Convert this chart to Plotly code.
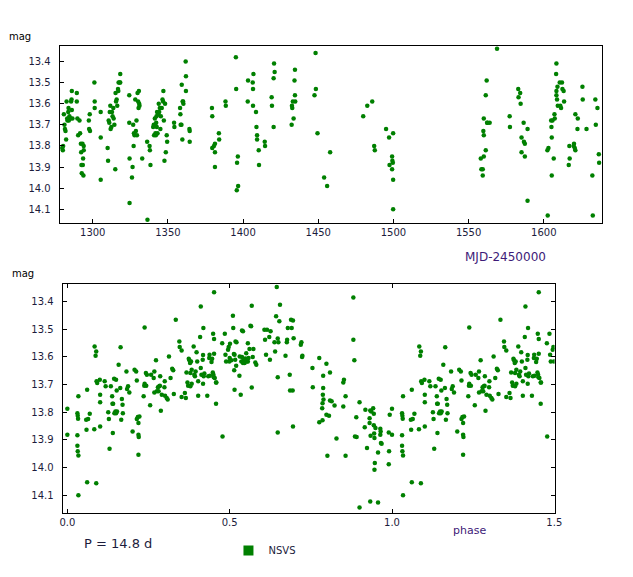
import plotly.graph_objects as go

# light curve, MJD-2450000 vs magnitude
days = [
    1279.7, 1280.1, 1280.3, 1280.8, 1281.2, 1281.5, 1281.9, 1282.3, 1282.6, 1283.0,
    1283.2, 1283.7, 1283.9, 1284.1, 1284.5, 1285.2, 1285.6, 1286.1, 1286.1, 1286.5,
    1285.9, 1289.4, 1289.4, 1289.8, 1290.3, 1291.2, 1291.6, 1292.1, 1292.3, 1292.5,
    1292.7, 1293.2, 1293.4, 1293.6, 1293.8, 1294.0, 1294.0, 1297.4, 1297.6, 1298.0,
    1298.2, 1301.1, 1301.3, 1301.3, 1305.3, 1305.3, 1305.3, 1309.9, 1310.2, 1310.6,
    1311.0, 1311.3, 1311.7, 1311.9, 1312.4, 1312.8, 1313.2, 1313.7, 1313.9, 1314.4,
    1315.0, 1315.2, 1315.5, 1315.9, 1316.3, 1316.8, 1317.0, 1317.2, 1317.9, 1318.3,
    1318.3, 1324.3, 1324.3, 1324.5, 1324.5, 1326.1, 1326.5, 1326.9, 1327.2, 1327.4,
    1327.8, 1328.3, 1328.7, 1329.1, 1329.4, 1329.8, 1330.2, 1330.5, 1330.7, 1330.9,
    1331.1, 1332.9, 1336.2, 1336.4, 1337.8, 1338.0, 1338.4, 1340.2, 1340.6, 1340.8,
    1341.3, 1341.5, 1341.7, 1342.0, 1342.2, 1342.4, 1342.6, 1342.8, 1343.1, 1343.5,
    1343.9, 1344.2, 1344.6, 1345.0, 1345.3, 1345.9, 1346.4, 1346.8, 1347.0, 1347.3,
    1347.7, 1348.1, 1348.6, 1349.2, 1349.5, 1354.1, 1354.3, 1358.1, 1358.3, 1358.5,
    1359.0, 1359.2, 1359.6, 1359.8, 1360.1, 1360.3, 1361.8, 1362.0, 1362.0, 1364.3,
    1364.5, 1364.5, 1379.3, 1379.5, 1379.5, 1380.6, 1381.3, 1381.3, 1381.3, 1383.9,
    1384.1, 1388.3, 1388.5, 1395.2, 1395.4, 1396.0, 1396.5, 1396.7, 1395.8, 1403.1,
    1403.3, 1406.4, 1406.6, 1406.9, 1406.6, 1408.6, 1408.9, 1409.3, 1409.3, 1410.4,
    1410.6, 1414.4, 1414.6, 1419.0, 1419.2, 1420.3, 1420.3, 1420.6, 1421.0, 1432.3,
    1432.5, 1432.7, 1433.1, 1433.6, 1434.2, 1434.5, 1434.5, 1434.7, 1447.5, 1448.2,
    1448.4, 1449.5, 1453.9, 1455.9, 1457.9, 1479.9, 1482.6, 1485.9, 1487.2, 1487.6,
    1495.1, 1497.1, 1497.4, 1499.1, 1499.1, 1499.3, 1499.6, 1499.8, 1499.8, 1499.8,
    1558.1, 1558.5, 1559.4, 1559.4, 1559.8, 1560.1, 1560.1, 1560.1, 1561.4, 1561.4,
    1562.0, 1562.3, 1562.5, 1564.0, 1568.9, 1577.3, 1577.5, 1583.0, 1583.2, 1584.3,
    1584.6, 1585.2, 1585.2, 1586.6, 1586.8, 1587.4, 1587.4, 1589.2, 1589.2, 1602.4,
    1602.6, 1603.1, 1604.9, 1605.1, 1605.3, 1605.3, 1605.8, 1606.6, 1607.1, 1607.3,
    1608.2, 1608.4, 1608.4, 1608.4, 1608.8, 1609.1, 1609.3, 1610.6, 1611.0, 1611.5,
    1612.1, 1612.4, 1613.2, 1613.5, 1616.6, 1617.0, 1617.2, 1619.9, 1620.1, 1620.6,
    1621.0, 1621.0, 1622.4, 1622.6, 1625.7, 1625.9, 1628.4, 1632.3, 1632.6, 1634.3,
    1634.6, 1635.7, 1636.6, 1636.8,
]
mags = [
    13.81, 13.82, 13.80, 13.65, 13.70, 13.72, 13.73, 13.77, 13.59, 13.67,
    13.68, 13.64, 13.62, 13.68, 13.66, 13.67, 13.59, 13.54, 13.63, 13.67,
    13.58, 13.55, 13.59, 13.67, 13.75, 13.68, 13.74, 13.79, 13.83, 13.89,
    13.93, 13.79, 13.89, 13.86, 13.94, 13.80, 13.82, 13.68, 13.72, 13.65,
    13.73, 13.50, 13.59, 13.62, 13.64, 13.76, 13.96, 13.81, 13.87, 13.68,
    13.69, 13.64, 13.61, 13.72, 13.71, 13.64, 13.66, 13.62, 13.67, 13.70,
    13.91, 13.55, 13.59, 13.58, 13.61, 13.53, 13.54, 13.50, 13.50, 13.46,
    13.50, 13.56, 13.69, 13.86, 14.07, 13.95, 13.90, 13.70, 13.80, 13.74,
    13.75, 13.58, 13.73, 13.68, 13.75, 13.55, 13.59, 13.62, 13.54, 13.60,
    13.61, 13.86, 13.78, 14.15, 13.80, 13.82, 13.89, 13.71, 13.70, 13.75,
    13.67, 13.70, 13.74, 13.75, 13.69, 13.66, 13.71, 13.64, 13.74, 13.65,
    13.60, 13.64, 13.62, 13.72, 13.66, 13.62, 13.58, 13.59, 13.54, 13.68,
    13.87, 13.60, 13.83, 13.75, 13.78, 13.69, 13.71, 13.62, 13.65, 13.70,
    13.70, 13.51, 13.77, 13.59, 13.59, 13.60, 13.40, 13.47, 13.54, 13.72,
    13.73, 13.78, 13.62, 13.66, 13.81, 13.80, 13.79, 13.83, 13.90, 13.74,
    13.77, 13.59, 13.61, 13.38, 13.53, 13.88, 13.85, 13.99, 14.01, 13.59,
    13.49, 13.50, 13.53, 13.46, 13.61, 13.64, 13.71, 13.75, 13.77, 13.82,
    13.89, 13.78, 13.80, 13.57, 13.61, 13.48, 13.71, 13.41, 13.45, 13.70,
    13.61, 13.62, 13.59, 13.67, 13.49, 13.44, 13.56, 13.59, 13.56, 13.36,
    13.53, 13.74, 13.95, 13.99, 13.83, 13.66, 13.61, 13.59, 13.80, 13.82,
    13.72, 13.76, 13.89, 13.91, 13.85, 13.87, 13.88, 13.74, 13.96, 14.10,
    13.86, 13.91, 13.91, 13.94, 13.73, 13.67, 13.75, 13.85, 13.82, 13.56,
    13.49, 13.69, 13.69, 13.69, 13.34, 13.66, 13.71, 13.53, 13.57, 13.55,
    13.60, 13.76, 13.83, 13.69, 13.78, 13.79, 13.85, 13.72, 14.06, 13.82,
    14.13, 13.81, 13.68, 13.71, 13.76, 13.94, 13.68, 13.86, 13.65, 13.67,
    13.46, 13.41, 13.54, 13.56, 13.58, 13.52, 13.61, 13.50, 13.61, 13.62,
    13.50, 13.53, 13.54, 13.59, 13.89, 13.80, 13.86, 13.80, 13.79, 13.81,
    13.82, 13.65, 13.72, 13.67, 13.52, 13.58, 13.72, 13.94, 14.13, 13.58,
    13.70, 13.62, 13.84, 13.88,
]

# folded with P = 14.8 d, one cycle of phases 0..1
phases = [
    0.000, 0.000, 0.031, 0.032, 0.033, 0.034, 0.031, 0.031, 0.032, 0.034,
    0.034, 0.058, 0.059, 0.061, 0.061, 0.064, 0.069, 0.084, 0.087, 0.089,
    0.089, 0.090, 0.092, 0.083, 0.100, 0.101, 0.101, 0.101, 0.115, 0.118,
    0.126, 0.128, 0.130, 0.134, 0.138, 0.139, 0.141, 0.140, 0.144, 0.145,
    0.148, 0.150, 0.150, 0.153, 0.152, 0.158, 0.163, 0.164, 0.166, 0.168,
    0.170, 0.171, 0.182, 0.184, 0.187, 0.191, 0.201, 0.207, 0.212, 0.214,
    0.214, 0.217, 0.219, 0.219, 0.220, 0.219, 0.222, 0.235, 0.237, 0.238,
    0.238, 0.242, 0.243, 0.245, 0.255, 0.258, 0.266, 0.268, 0.268, 0.273,
    0.276, 0.279, 0.281, 0.283, 0.285, 0.286, 0.288, 0.291, 0.299, 0.300,
    0.301, 0.306, 0.309, 0.313, 0.318, 0.323, 0.326, 0.328, 0.334, 0.345,
    0.346, 0.352, 0.352, 0.362, 0.365, 0.367, 0.370, 0.372, 0.374, 0.376,
    0.378, 0.379, 0.381, 0.383, 0.379, 0.383, 0.389, 0.391, 0.393, 0.395,
    0.398, 0.400, 0.403, 0.403, 0.409, 0.411, 0.411, 0.413, 0.417, 0.418,
    0.418, 0.419, 0.420, 0.422, 0.431, 0.434, 0.437, 0.438, 0.439, 0.444,
    0.446, 0.448, 0.449, 0.450, 0.451, 0.452, 0.452, 0.452, 0.454, 0.458,
    0.458, 0.459, 0.477, 0.478, 0.485, 0.487, 0.489, 0.495, 0.497, 0.499,
    0.500, 0.501, 0.505, 0.510, 0.511, 0.513, 0.514, 0.515, 0.515, 0.517,
    0.518, 0.520, 0.521, 0.530, 0.531, 0.534, 0.536, 0.538, 0.538, 0.541,
    0.541, 0.543, 0.546, 0.548, 0.551, 0.553, 0.556, 0.556, 0.558, 0.561,
    0.564, 0.566, 0.568, 0.568, 0.571, 0.573, 0.579, 0.582, 0.607, 0.609,
    0.612, 0.615, 0.622, 0.624, 0.626, 0.638, 0.640, 0.643, 0.648, 0.645,
    0.648, 0.648, 0.650, 0.653, 0.655, 0.672, 0.676, 0.677, 0.679, 0.685,
    0.686, 0.689, 0.691, 0.694, 0.695, 0.695, 0.697, 0.719, 0.721, 0.723,
    0.724, 0.755, 0.756, 0.776, 0.776, 0.786, 0.786, 0.787, 0.788, 0.788,
    0.785, 0.789, 0.798, 0.798, 0.801, 0.806, 0.809, 0.809, 0.814, 0.823,
    0.829, 0.850, 0.850, 0.852, 0.857, 0.857, 0.881, 0.881, 0.884, 0.890,
    0.886, 0.891, 0.900, 0.900, 0.916, 0.918, 0.923, 0.931, 0.931, 0.933,
    0.934, 0.933, 0.936, 0.942, 0.944, 0.944, 0.945, 0.946, 0.947, 0.946,
    0.949, 0.957, 0.957, 0.964, 0.965, 0.964, 0.966, 0.968, 0.990, 0.991,
    0.990, 0.993,
]
phase_mags = [
    13.788, 13.882, 13.804, 13.813, 13.824, 13.743, 13.884, 13.922, 13.942, 13.957,
    14.101, 13.828, 13.864, 13.719, 14.054, 13.825, 13.806, 13.563, 13.596, 13.581,
    14.057, 13.689, 13.695, 13.862, 13.683, 13.765, 13.737, 13.852, 13.689, 13.707,
    13.801, 13.825, 13.933, 13.707, 13.743, 13.770, 13.770, 13.876, 13.680, 13.804,
    13.798, 13.683, 13.804, 13.798, 13.722, 13.629, 13.713, 13.566, 13.828, 13.753,
    13.774, 13.804, 13.653, 13.717, 13.707, 13.729, 13.870, 13.647, 13.653, 13.686,
    13.825, 13.818, 13.840, 13.882, 13.890, 13.954, 13.816, 13.743, 13.705, 13.698,
    13.494, 13.659, 13.705, 13.665, 13.775, 13.665, 13.677, 13.653, 13.729, 13.613,
    13.725, 13.710, 13.725, 13.707, 13.705, 13.671, 13.795, 13.737, 13.710, 13.689,
    13.741, 13.749, 13.755, 13.599, 13.677, 13.643, 13.649, 13.735, 13.466, 13.545,
    13.565, 13.577, 13.746, 13.731, 13.749, 13.657, 13.693, 13.705, 13.607, 13.613,
    13.623, 13.659, 13.617, 13.647, 13.707, 13.698, 13.563, 13.665, 13.671, 13.653,
    13.584, 13.617, 13.741, 13.689, 13.529, 13.418, 13.641, 13.665, 13.611, 13.594,
    13.698, 13.496, 13.671, 13.661, 13.741, 13.671, 13.605, 13.593, 13.669, 13.619,
    13.607, 13.657, 13.517, 13.665, 13.674, 13.536, 13.589, 13.367, 13.677, 13.693,
    13.770, 13.693, 13.551, 13.888, 13.517, 13.593, 13.617, 13.575, 13.565, 13.617,
    13.605, 13.553, 13.613, 13.452, 13.496, 13.590, 13.649, 13.719, 13.593, 13.611,
    13.545, 13.633, 13.548, 13.669, 13.599, 13.737, 13.617, 13.601, 13.505, 13.508,
    13.623, 13.611, 13.623, 13.606, 13.587, 13.617, 13.551, 13.617, 13.605, 13.572,
    13.488, 13.490, 13.416, 13.711, 13.601, 13.572, 13.621, 13.629, 13.502, 13.539,
    13.593, 13.502, 13.529, 13.611, 13.508, 13.548, 13.581, 13.454, 13.874, 13.348,
    13.674, 13.534, 13.548, 13.472, 13.412, 13.596, 13.548, 13.539, 13.496, 13.665,
    13.722, 13.466, 13.496, 13.722, 13.469, 13.852, 13.533, 13.557, 13.548, 13.601,
    13.596, 13.641, 13.710, 13.605, 13.837, 13.830, 13.768, 13.737, 13.713, 13.669,
    13.786, 13.755, 13.625, 13.810, 13.958, 13.813, 13.758, 13.657, 13.761, 13.776,
    13.896, 13.780, 13.693, 13.683, 13.743, 13.958, 13.386, 13.539, 13.613, 13.819,
    13.888, 13.890, 13.765, 14.145, 13.855, 13.792, 13.930, 13.822, 13.840, 13.794,
    13.886, 14.123, 13.798, 13.786, 13.806, 13.848, 13.878, 13.894, 13.984, 14.009,
    13.858, 13.946, 14.127, 13.860, 13.870, 13.882, 13.912, 13.915, 13.874, 13.942,
    13.989, 13.810,
]

period_text = "P = 14.8 d"
mag_ticks = [13.4, 13.5, 13.6, 13.7, 13.8, 13.9, 14.0, 14.1]

# first half of the cycle is drawn again after phase 1
phase_all = phases + [p + 1 for p in phases if p < 0.5]
phase_mag_all = phase_mags + [m for p, m in zip(phases, phase_mags) if p < 0.5]

green = "#008000"
tick_col = "#1c1c3c"
label_col = "#3d1a78"

# the page body has an 8px margin on every side; keep the figure inside the
# window so nothing scrolls, and measure screen positions from (8, 8)
PAD = 8
W, H = 633 - 2 * PAD, 577 - 2 * PAD
SX = 1.011  # small horizontal stretch, the shot came out a bit narrow

fig = go.Figure()

fig.add_trace(go.Scatter(
    x=days, y=mags, mode="markers", xaxis="x", yaxis="y",
    marker={"color": green, "size": 4.5}, showlegend=False, hoverinfo="x+y"))

fig.add_trace(go.Scatter(
    x=phase_all, y=phase_mag_all, mode="markers", xaxis="x2", yaxis="y2",
    marker={"color": green, "size": 4.5}, showlegend=False, hoverinfo="x+y"))

# legend entry only
fig.add_trace(go.Scatter(
    x=[None], y=[None], mode="markers", name="NSVS", xaxis="x2", yaxis="y2",
    marker={"color": green, "size": 10, "symbol": "square"}))

axis_common = dict(
    showgrid=False, zeroline=False, showline=True, linecolor="black", linewidth=1,
    ticks="inside", ticklen=4, tickcolor="black",
    tickfont={"family": "DejaVu Sans", "size": 10, "color": tick_col},
)


def px_x(p):
    return (p - PAD) * SX / W


def px_y(p):
    return 1 - (p - PAD) / H


fig.update_layout(
    width=W, height=H,
    margin={"l": 0, "r": 0, "t": 0, "b": 0},
    paper_bgcolor="white", plot_bgcolor="white",
    xaxis=dict(axis_common, domain=[px_x(57), px_x(603)], range=[1278, 1638.6],
               tick0=1300, dtick=50, mirror=True, anchor="y"),
    yaxis=dict(axis_common, domain=[px_y(223), px_y(46)], range=[14.165, 13.327],
               tickvals=mag_ticks, tickformat=".1f", mirror=True, anchor="x",
               ticklabelstandoff=6),
    xaxis2=dict(axis_common, domain=[px_x(60), px_x(555.5)], range=[-0.0145, 1.501],
                tick0=0, dtick=0.5, tickformat=".1f", mirror="ticks", anchor="y2"),
    yaxis2=dict(axis_common, domain=[px_y(513), px_y(284)], range=[14.165, 13.337],
                tickvals=mag_ticks, tickformat=".1f", mirror="ticks", anchor="x2",
                ticklabelstandoff=6),
    legend=dict(x=px_x(227), y=px_y(536), xanchor="left", yanchor="top",
                bgcolor="rgba(0,0,0,0)", itemwidth=30,
                font={"family": "DejaVu Sans", "size": 10, "color": tick_col}),
    font={"family": "DejaVu Sans"},
)

notes = [
    ("mag", 4, 36, 10, "black", "left"),
    ("MJD-2450000", 506, 257, 12, label_col, "center"),
    ("mag", 7, 273, 10, "black", "left"),
    ("phase", 470, 530, 11, label_col, "center"),
    (period_text, 79, 543, 13, tick_col, "left"),
]
for text, x, y, size, col, anchor in notes:
    fig.add_annotation(text=text, xref="paper", yref="paper", x=px_x(x), y=px_y(y),
                       xanchor=anchor, yanchor="middle", showarrow=False,
                       font={"family": "DejaVu Sans", "size": size, "color": col})

fig.write_html("out.html")
